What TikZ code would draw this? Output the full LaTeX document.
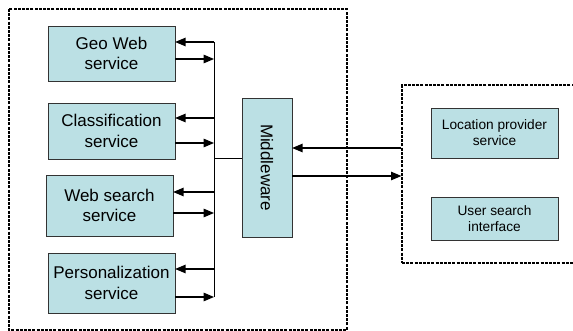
\documentclass[tikz,border=0pt]{standalone}
\usepackage{fontspec}
\setmainfont{Liberation Sans}
\usepackage{graphicx}
\usetikzlibrary{arrows,positioning}

\definecolor{boxfill}{RGB}{187,224,228}

\tikzset{
  svc/.style={draw=black!80, fill=boxfill, minimum width=127pt, inner sep=0pt,
    align=center, font=\fontsize{17}{20.5}\selectfont},
  client/.style={draw=black!80, fill=boxfill, minimum width=127pt, inner sep=0pt,
    align=center, font=\fontsize{13.7}{16}\selectfont},
  group/.style={draw, dashed, line width=1.2pt, dash pattern=on 3pt off 1.2pt},
  link/.style={line width=1.4pt, arrows={-triangle 45}}
}

\begin{document}
\begin{tikzpicture}[x=1pt, y=-1pt]
\clip (0, 0) rectangle (573, 331);

% server side
\draw [group] (9, 9) rectangle (347, 330);
\node [svc, minimum height=55pt] (geo) at (111.5, 53.5) {Geo Web\\service};
\node [svc, minimum height=56pt] (class) at (111.5, 131) {Classification\\service};
\node [svc, minimum height=61pt] (web) at (109.5, 205.5) {Web search\\service};
\node [svc, minimum height=60pt] (pers) at (111.5, 283) {Personalization\\service};
\node [svc, minimum width=50pt, minimum height=139pt] (mw) at (267, 167.5)
  {\rotatebox{-90}{Middleware}};

% bus
\coordinate (b1) at (214, 42);
\coordinate (b2) at (214, 59);
\coordinate (b3) at (214, 118);
\coordinate (b4) at (214, 143);
\coordinate (b5) at (214, 192);
\coordinate (b6) at (214, 213);
\coordinate (b7) at (214, 269);
\coordinate (b8) at (214, 297);
\coordinate (bm) at (214, 158);
\draw [line width=0.8pt] (b1) -- (b8);
\draw [line width=0.8pt] (bm) -- (bm -| mw.west);

\draw [link] (b1) -- (b1 -| geo.east);
\draw [link] (b2 -| geo.east) -- (b2);
\draw [link] (b3) -- (b3 -| class.east);
\draw [link] (b4 -| class.east) -- (b4);
\draw [link] (b5) -- (b5 -| web.east);
\draw [link] (b6 -| web.east) -- (b6);
\draw [link] (b7) -- (b7 -| pers.east);
\draw [link] (b8 -| pers.east) -- (b8);

% client side
\node [group, minimum width=180pt, minimum height=178pt, inner sep=0pt] (user) at (492, 174) {};
\node [client, minimum height=50pt] (loc) at (494.5, 133) {Location provider\\service};
\node [client, minimum height=43pt] (ui) at (494.5, 218.5) {User search\\interface};

\coordinate (c1) at (402, 148);
\coordinate (c2) at (402, 176);
\draw [link] (c1 -| user.west) -- (c1 -| mw.east);
\draw [link] (c2 -| mw.east) -- (c2 -| user.west);

\end{tikzpicture}
\end{document}
